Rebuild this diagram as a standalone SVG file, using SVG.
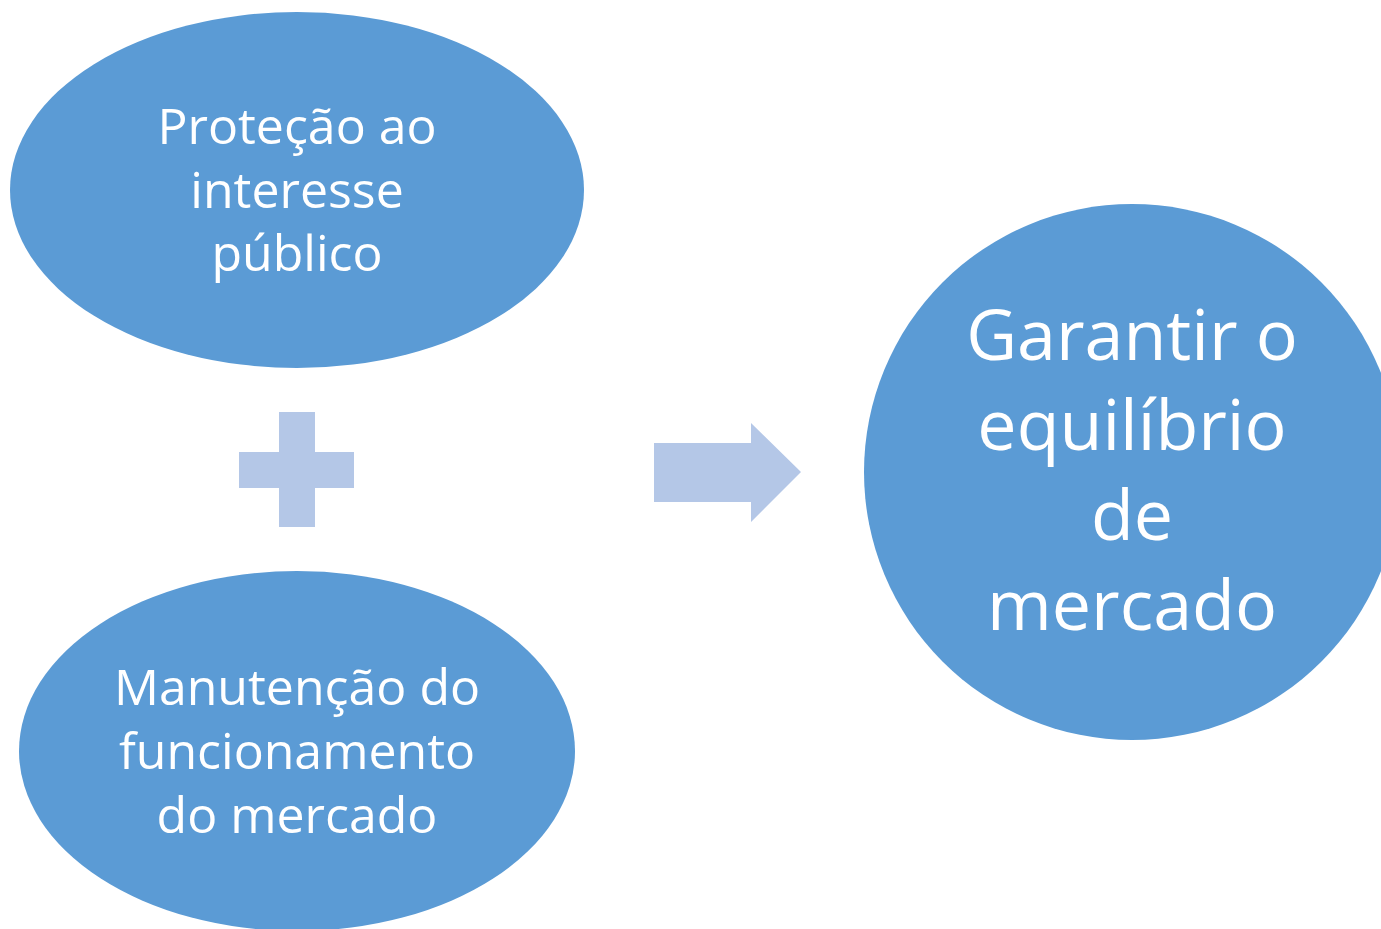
<svg xmlns="http://www.w3.org/2000/svg" width="1381" height="929" viewBox="0 0 1381 929">
<style>
.node{fill:#5B9BD5}
.sym{fill:#B4C7E7}
.t{font-family:"Open Sans","Liberation Sans",sans-serif;fill:#FFFFFF;text-anchor:middle}
.s{font-size:50px}
.l{font-size:70px}
</style>
<rect width="1381" height="929" fill="#FFFFFF"/>
<g id="node-protecao">
<ellipse class="node" cx="297" cy="190" rx="287" ry="178"/>
<text class="t s" x="297" y="144">Proteção ao</text>
<text class="t s" x="297" y="208">interesse</text>
<text class="t s" x="297" y="271">público</text>
</g>
<g id="node-manutencao">
<ellipse class="node" cx="297" cy="751" rx="278" ry="180"/>
<text class="t s" x="297" y="705">Manutenção do</text>
<text class="t s" x="297" y="769">funcionamento</text>
<text class="t s" x="297" y="833">do mercado</text>
</g>
<g id="node-garantir">
<ellipse class="node" cx="1132" cy="472" rx="268" ry="268"/>
<text class="t l" x="1132" y="360">Garantir o</text>
<text class="t l" x="1132" y="450">equilíbrio</text>
<text class="t l" x="1132" y="540">de</text>
<text class="t l" x="1132" y="630">mercado</text>
</g>
<g id="connectors">
<path id="plus" class="sym" d="M279,412 H315 V452 H354 V488 H315 V527 H279 V488 H239 V452 H279 Z"/>
<path id="arrow" class="sym" d="M654,443 H751 V423 L801,472 L751,522 V502 H654 Z"/>
</g>
</svg>
